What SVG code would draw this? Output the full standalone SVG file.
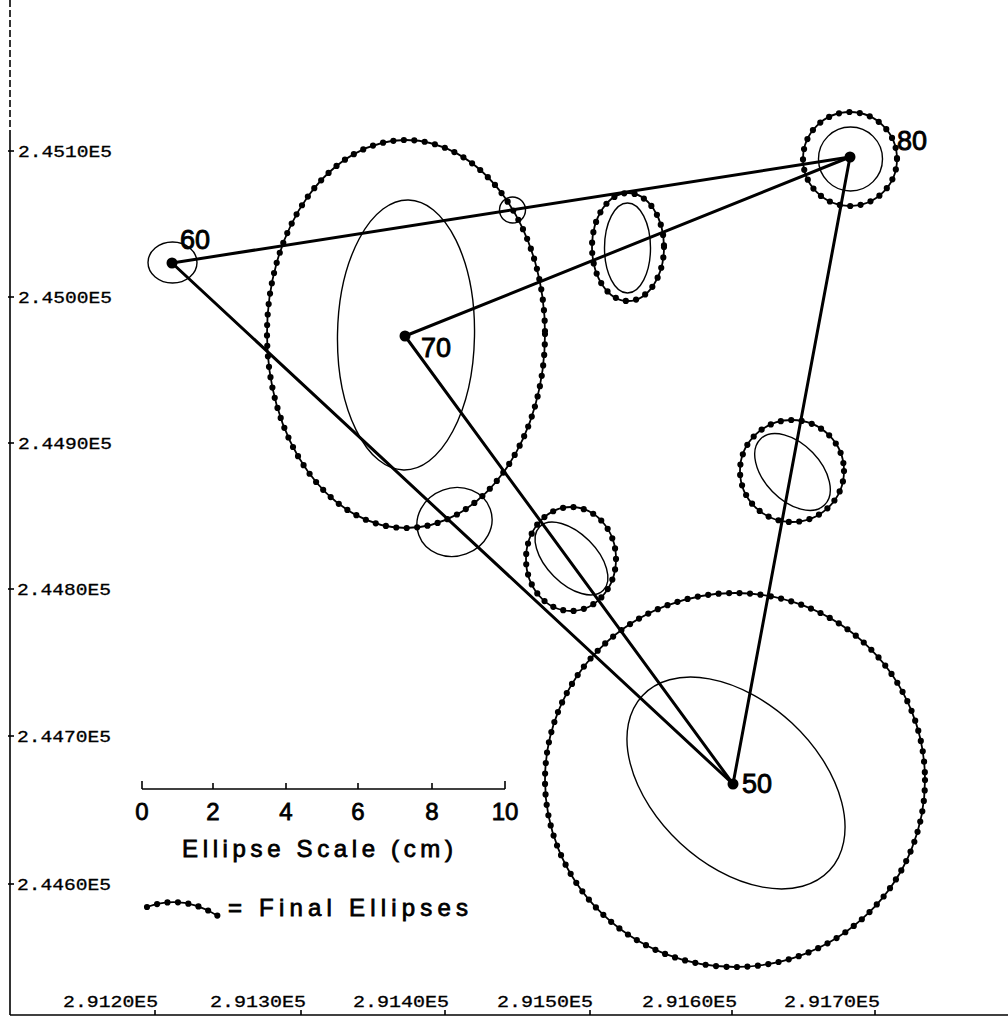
<svg xmlns="http://www.w3.org/2000/svg" width="1008" height="1019" viewBox="0 0 1008 1019">
<style>
.axis{stroke:#000;stroke-width:1.6;fill:none}
.tick{stroke:#000;stroke-width:1.6}
.albl{font-family:"Liberation Mono","DejaVu Sans Mono",monospace;font-size:16px;fill:#000;stroke:#000;stroke-width:0.3}
.edge{stroke:#000;stroke-width:3;fill:none;stroke-linecap:round}
.thin{stroke:#000;stroke-width:1.4;fill:none}
.dotline{stroke:#000;stroke-width:1.8;fill:none}
.dots{stroke:#000;stroke-width:6.2;fill:none;stroke-dasharray:0 10.5;stroke-linecap:round}
.node{fill:#000}
.nlbl{font-family:"Liberation Sans","DejaVu Sans",sans-serif;font-size:27px;fill:#000;stroke:#000;stroke-width:0.9}
.slbl{font-family:"Liberation Sans","DejaVu Sans",sans-serif;font-size:24px;fill:#000;stroke:#000;stroke-width:0.8}
</style>
<rect width="1008" height="1019" fill="#fff"/>

<g id="axes">
  <line class="axis" x1="10" y1="0" x2="10" y2="135" stroke-dasharray="7 3"/>
  <line class="axis" x1="10" y1="135" x2="10" y2="1015"/>
  <line class="axis" x1="10" y1="1015" x2="1008" y2="1015"/>
  <g class="tick">
    <line x1="8" y1="151" x2="14" y2="151"/>
    <line x1="8" y1="297" x2="14" y2="297"/>
    <line x1="8" y1="443" x2="14" y2="443"/>
    <line x1="8" y1="589" x2="14" y2="589"/>
    <line x1="8" y1="736" x2="14" y2="736"/>
    <line x1="8" y1="884" x2="14" y2="884"/>
    <line x1="155" y1="1010" x2="155" y2="1015"/>
    <line x1="301" y1="1010" x2="301" y2="1015"/>
    <line x1="445" y1="1010" x2="445" y2="1015"/>
    <line x1="590" y1="1010" x2="590" y2="1015"/>
    <line x1="732" y1="1010" x2="732" y2="1015"/>
    <line x1="875" y1="1010" x2="875" y2="1015"/>
  </g>
  <text class="albl" x="18" y="157" textLength="94" lengthAdjust="spacingAndGlyphs">2.4510E5</text>
  <text class="albl" x="18" y="303" textLength="94" lengthAdjust="spacingAndGlyphs">2.4500E5</text>
  <text class="albl" x="18" y="449" textLength="94" lengthAdjust="spacingAndGlyphs">2.4490E5</text>
  <text class="albl" x="17" y="595" textLength="94" lengthAdjust="spacingAndGlyphs">2.4480E5</text>
  <text class="albl" x="17" y="742" textLength="94" lengthAdjust="spacingAndGlyphs">2.4470E5</text>
  <text class="albl" x="17" y="890" textLength="94" lengthAdjust="spacingAndGlyphs">2.4460E5</text>
  <text class="albl" x="63" y="1007" textLength="95" lengthAdjust="spacingAndGlyphs">2.9120E5</text>
  <text class="albl" x="210" y="1007" textLength="96" lengthAdjust="spacingAndGlyphs">2.9130E5</text>
  <text class="albl" x="353" y="1007" textLength="96" lengthAdjust="spacingAndGlyphs">2.9140E5</text>
  <text class="albl" x="497" y="1007" textLength="96" lengthAdjust="spacingAndGlyphs">2.9150E5</text>
  <text class="albl" x="642" y="1007" textLength="95" lengthAdjust="spacingAndGlyphs">2.9160E5</text>
  <text class="albl" x="784" y="1007" textLength="96" lengthAdjust="spacingAndGlyphs">2.9170E5</text>
</g>

<g id="connectors">
  <line class="edge" x1="172" y1="263" x2="850" y2="157"/>
  <line class="edge" x1="405" y1="336" x2="850" y2="157"/>
  <line class="edge" x1="172" y1="263" x2="733" y2="784"/>
  <line class="edge" x1="405" y1="336" x2="733" y2="784"/>
  <line class="edge" x1="850" y1="157" x2="733" y2="784"/>
</g>

<g id="node-60">
  <ellipse class="thin" cx="172.5" cy="262.5" rx="24.5" ry="20.5"/>
  <circle class="node" cx="172" cy="263" r="5.5"/>
  <text class="nlbl" x="180" y="249">60</text>
</g>

<g id="node-70">
  <ellipse class="dotline" cx="406" cy="334" rx="139" ry="194"/>
  <ellipse class="dots" cx="406" cy="334" rx="139" ry="194"/>
  <ellipse class="thin" cx="406" cy="335" rx="68.5" ry="135" transform="rotate(1 406 335)"/>
  <circle class="node" cx="405" cy="336" r="5.5"/>
  <text class="nlbl" x="421" y="357">70</text>
</g>

<g id="node-80">
  <circle class="dotline" cx="850" cy="159" r="47"/>
  <circle class="dots" cx="850" cy="159" r="47"/>
  <circle class="thin" cx="850.5" cy="159" r="32"/>
  <circle class="node" cx="850" cy="157" r="5.5"/>
  <text class="nlbl" x="897" y="150">80</text>
</g>

<g id="node-50">
  <ellipse class="dotline" cx="735" cy="780" rx="190" ry="187"/>
  <ellipse class="dots" cx="735" cy="780" rx="190" ry="187"/>
  <ellipse class="thin" cx="736" cy="783" rx="128" ry="82" transform="rotate(43 736 783)"/>
  <circle class="node" cx="733" cy="784" r="5.5"/>
  <text class="nlbl" x="742" y="793">50</text>
</g>

<g id="ellipse-a">
  <circle class="thin" cx="512.5" cy="210" r="13"/>
</g>

<g id="ellipse-b">
  <ellipse class="dotline" cx="628" cy="247" rx="36" ry="54"/>
  <ellipse class="dots" cx="628" cy="247" rx="36" ry="54"/>
  <ellipse class="thin" cx="627.5" cy="248" rx="23" ry="45"/>
</g>

<g id="ellipse-c">
  <ellipse class="dotline" cx="792" cy="471" rx="52" ry="51"/>
  <ellipse class="dots" cx="792" cy="471" rx="52" ry="51"/>
  <ellipse class="thin" cx="792.5" cy="472" rx="46" ry="28" transform="rotate(46 792.5 472)"/>
</g>

<g id="ellipse-d">
  <ellipse class="thin" cx="454.5" cy="522" rx="38" ry="34" transform="rotate(-20 454.5 522)"/>
</g>

<g id="ellipse-e">
  <ellipse class="dotline" cx="571" cy="559" rx="45" ry="52"/>
  <ellipse class="dots" cx="571" cy="559" rx="45" ry="52"/>
  <ellipse class="thin" cx="571.5" cy="558.5" rx="45" ry="25" transform="rotate(45 571.5 558.5)"/>
</g>

<g id="scale-bar">
  <line class="axis" x1="142" y1="789" x2="505" y2="789" stroke-width="2.2"/>
  <g class="tick" stroke-width="2.2">
    <line x1="142" y1="781" x2="142" y2="789"/>
    <line x1="213" y1="783" x2="213" y2="789"/>
    <line x1="286" y1="783" x2="286" y2="789"/>
    <line x1="358" y1="783" x2="358" y2="789"/>
    <line x1="432" y1="783" x2="432" y2="789"/>
    <line x1="505" y1="781" x2="505" y2="789"/>
  </g>
  <g class="slbl" text-anchor="middle">
    <text x="142" y="820">0</text>
    <text x="213" y="820">2</text>
    <text x="286" y="820">4</text>
    <text x="358" y="820">6</text>
    <text x="432" y="820">8</text>
    <text x="505" y="820">10</text>
  </g>
  <text class="slbl" x="182" y="857" textLength="271" lengthAdjust="spacing">Ellipse Scale (cm)</text>
</g>

<g id="legend">
  <path class="dotline" d="M147 907 Q183 894 218 916"/>
  <path class="dots" d="M147 907 Q183 894 218 916"/>
  <text class="slbl" x="228" y="916" textLength="240" lengthAdjust="spacing">= Final Ellipses</text>
</g>
</svg>
